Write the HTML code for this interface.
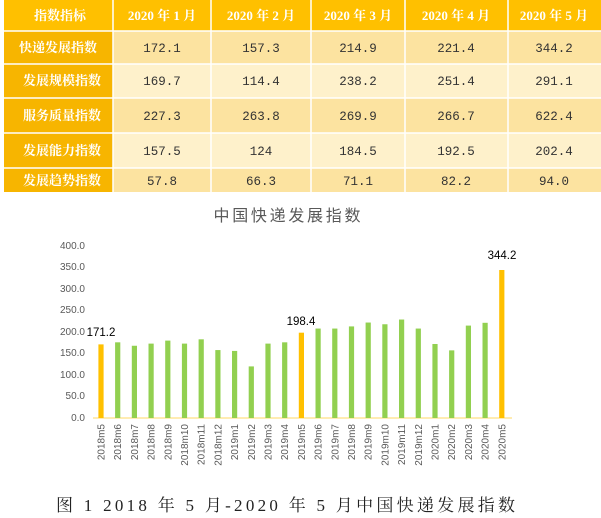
<!DOCTYPE html>
<html><head><meta charset="utf-8"><style>
body{margin:0;width:601px;height:518px;background:#fff;overflow:hidden}
svg{display:block}
</style></head><body>
<svg width="601" height="518" xmlns="http://www.w3.org/2000/svg">
<g font-family="Liberation Serif, Noto Serif CJK SC, serif" font-size="13">
<rect x="4" y="0" width="597" height="31" fill="#FFC000"/>
<rect x="4" y="31" width="109" height="161" fill="#F7B500"/>
<rect x="113" y="31" width="488" height="33" fill="#FCE3A0"/>
<rect x="113" y="64" width="488" height="34" fill="#FEF1CB"/>
<rect x="113" y="98" width="488" height="35" fill="#FCE3A0"/>
<rect x="113" y="133" width="488" height="35" fill="#FEF1CB"/>
<rect x="113" y="168" width="488" height="24" fill="#FCE3A0"/>
<g stroke="#fff" stroke-width="1.5">
<line x1="4" y1="31" x2="601" y2="31"/><line x1="4" y1="64" x2="601" y2="64"/>
<line x1="4" y1="98" x2="601" y2="98"/><line x1="4" y1="133" x2="601" y2="133"/>
<line x1="4" y1="168" x2="601" y2="168"/>
<line x1="113" y1="0" x2="113" y2="192"/><line x1="211" y1="0" x2="211" y2="192"/>
<line x1="311" y1="0" x2="311" y2="192"/><line x1="405" y1="0" x2="405" y2="192"/>
<line x1="508" y1="0" x2="508" y2="192"/>
</g>
<g fill="#fff" font-weight="bold" text-anchor="middle">
<text x="60" y="20">指数指标</text>
<text x="162" y="20">2020 年 1 月</text><text x="261" y="20">2020 年 2 月</text>
<text x="358" y="20">2020 年 3 月</text><text x="456" y="20">2020 年 4 月</text>
<text x="554" y="20">2020 年 5 月</text>
<text x="58" y="52">快递发展指数</text><text x="62" y="85">发展规模指数</text>
<text x="62" y="120">服务质量指数</text><text x="62" y="155">发展能力指数</text>
<text x="62" y="185">发展趋势指数</text>
</g>
<g fill="#333" text-anchor="middle" font-family="Liberation Mono, monospace" font-size="12.5">
<text x="162" y="52">172.1</text><text x="261" y="52">157.3</text><text x="358" y="52">214.9</text><text x="456" y="52">221.4</text><text x="554" y="52">344.2</text>
<text x="162" y="85">169.7</text><text x="261" y="85">114.4</text><text x="358" y="85">238.2</text><text x="456" y="85">251.4</text><text x="554" y="85">291.1</text>
<text x="162" y="120">227.3</text><text x="261" y="120">263.8</text><text x="358" y="120">269.9</text><text x="456" y="120">266.7</text><text x="554" y="120">622.4</text>
<text x="162" y="155">157.5</text><text x="261" y="155">124</text><text x="358" y="155">184.5</text><text x="456" y="155">192.5</text><text x="554" y="155">202.4</text>
<text x="162" y="185">57.8</text><text x="261" y="185">66.3</text><text x="358" y="185">71.1</text><text x="456" y="185">82.2</text><text x="554" y="185">94.0</text>
</g>
</g>
<text x="287" y="221" text-anchor="middle" font-family="Liberation Sans, Noto Sans CJK SC, sans-serif" font-size="16" fill="#595959" textLength="147">中国快递发展指数</text>
<g font-family="Liberation Sans, sans-serif" font-size="10" fill="#595959" text-anchor="end">
<text x="85" y="249">400.0</text><text x="85" y="270">350.0</text><text x="85" y="292">300.0</text>
<text x="85" y="313">250.0</text><text x="85" y="335">200.0</text><text x="85" y="356">150.0</text>
<text x="85" y="378">100.0</text><text x="85" y="399">50.0</text><text x="85" y="421">0.0</text>
</g>
<line x1="93" y1="418" x2="512" y2="418" stroke="#FFD966" stroke-width="1"/>
<g id="bars"></g>
<g id="xl" font-family="Liberation Sans, sans-serif" font-size="10" fill="#595959"></g>
<g font-family="Liberation Sans, sans-serif" font-size="11.5" fill="#000" text-anchor="middle">
<text x="101" y="336">171.2</text><text x="301" y="325">198.4</text><text x="502" y="259">344.2</text>
</g>
<text x="56" y="511" font-family="Liberation Serif, Noto Serif CJK SC, serif" font-size="17" fill="#222" textLength="459">图 1  2018 年 5 月-2020 年 5 月中国快递发展指数</text>
<script>
var v=[171.2,176,168,173,180,173,183,158,156,120,173,176,198.4,208,208,213,222,218,229,208,172.1,157.3,214.9,221.4,344.2];
var l=["2018m5","2018m6","2018m7","2018m8","2018m9","2018m10","2018m11","2018m12","2019m1","2019m2","2019m3","2019m4","2019m5","2019m6","2019m7","2019m8","2019m9","2019m10","2019m11","2019m12","2020m1","2020m2","2020m3","2020m4","2020m5"];
var b=document.getElementById('bars'),x=document.getElementById('xl'),ns="http://www.w3.org/2000/svg";
v.forEach(function(d,i){var cx=101+i*16.7,h=d*0.43;var r=document.createElementNS(ns,'rect');
r.setAttribute('x',cx-2.6);r.setAttribute('width',5.2);r.setAttribute('y',418-h);r.setAttribute('height',h);
r.setAttribute('fill',(i==0||i==12||i==24)?'#FFC000':'#92D050');b.appendChild(r);
var t=document.createElementNS(ns,'text');t.setAttribute('transform','translate('+(cx+3.5)+',424) rotate(-90)');
t.setAttribute('text-anchor','end');t.textContent=l[i];x.appendChild(t);});
</script>
</svg>
</body></html>
